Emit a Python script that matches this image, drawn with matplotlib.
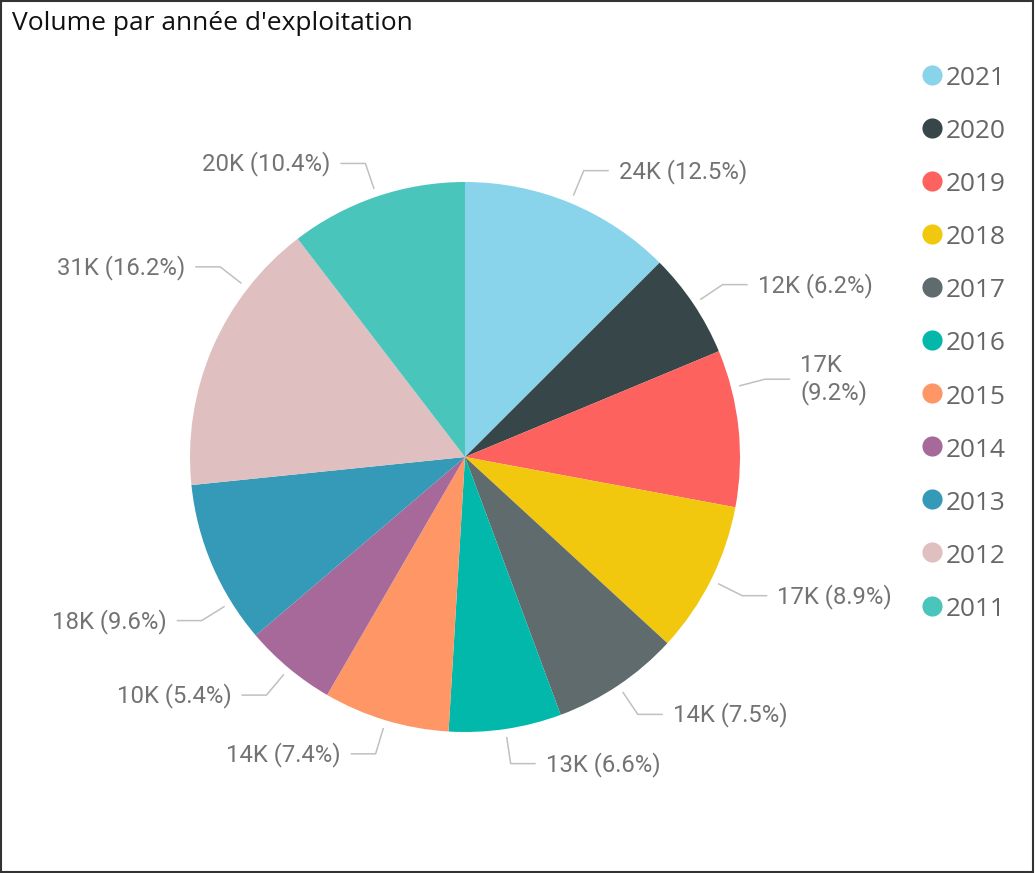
import matplotlib
matplotlib.use("Agg")
import matplotlib.pyplot as plt
import numpy as np
from matplotlib.patches import Rectangle

# ---- data ----
years = ["2021", "2020", "2019", "2018", "2017", "2016", "2015", "2014", "2013", "2012", "2011"]
volumes_k = [24, 12, 17, 17, 14, 13, 14, 10, 18, 31, 20]
shares_pct = [12.5, 6.2, 9.2, 8.9, 7.5, 6.6, 7.4, 5.4, 9.6, 16.2, 10.4]
colors = ["#8AD4EB", "#374649", "#FD625E", "#F2C80F", "#5F6B6D", "#01B8AA",
          "#FE9666", "#A66999", "#3599B8", "#DFBFBF", "#4AC5BB"]
title = "Volume par année d'exploitation"

# ---- layout (pixels) ----
W, H = 1036, 873
fig = plt.figure(figsize=(W / 100, H / 100), dpi=100)
ax = fig.add_axes([0, 0, 1, 1])

cx, cy, R = 465, H - 457, 275
wedges, _ = ax.pie(shares_pct, colors=colors, startangle=90, counterclock=False,
                   radius=R, center=(cx, cy), wedgeprops=dict(linewidth=0))
ax.set_xlim(0, W)
ax.set_ylim(0, H)
ax.set_aspect("equal")
ax.axis("off")

# label collision adjustments (degrees) as done by the original renderer
angle_shift = {2: 8.5, 8: 8.7, 9: -14.5}
wrapped = {2}
label_font = dict(family=["Roboto", "DejaVu Sans"], fontsize=17.2, color="#737373")
for i, w in enumerate(wedges):
    ang = np.deg2rad((w.theta1 + w.theta2) / 2 + angle_shift.get(i, 0))
    c, s = np.cos(ang), np.sin(ang)
    r1, r2 = R + 8, R + 35
    p1 = (cx + r1 * c, cy + r1 * s)
    p2 = (cx + r2 * c, cy + r2 * s)
    side = 1 if c >= 0 else -1
    p3 = (p2[0] + side * 25, p2[1])
    ax.plot([p1[0], p2[0], p3[0]], [p1[1], p2[1], p3[1]], color="#c0c0c0", lw=1.1,
            solid_capstyle="butt")
    lab = f"{volumes_k[i]}K ({shares_pct[i]:.1f}%)"
    tx = p3[0] + side * 10
    ha = "left" if side > 0 else "right"
    if i in wrapped:
        lines = lab.split(" ", 1)
        for j, ln in enumerate(lines):
            ax.text(tx, p3[1] + 14.5 - 27 * j - 7.5, ln, ha=ha, va="baseline", **label_font)
    else:
        ax.text(tx, p3[1] - 7.5, lab, ha=ha, va="baseline", **label_font)

# legend (circle markers)
for i, (yr, col) in enumerate(zip(years, colors)):
    y = H - (74.5 + i * 53.1)
    ax.plot([931.5], [y], marker="o", ms=14.5, color=col, mec="none", linestyle="none")
    ax.text(945.5, y - 10.5, yr, ha="left", va="baseline", fontsize=18.9,
            family=["Open Sans", "DejaVu Sans"], color="#666666")

# title
ax.text(12, H - 30, title, ha="left", va="baseline", fontsize=19,
        family=["Open Sans", "DejaVu Sans"], color="#111111")

# border
ax.add_patch(Rectangle((0.8, 1.5), 1031.7, 871.0, fill=False, ec="#333333", lw=1.5,
                       clip_on=False))

fig.savefig("out.png", dpi=100)
